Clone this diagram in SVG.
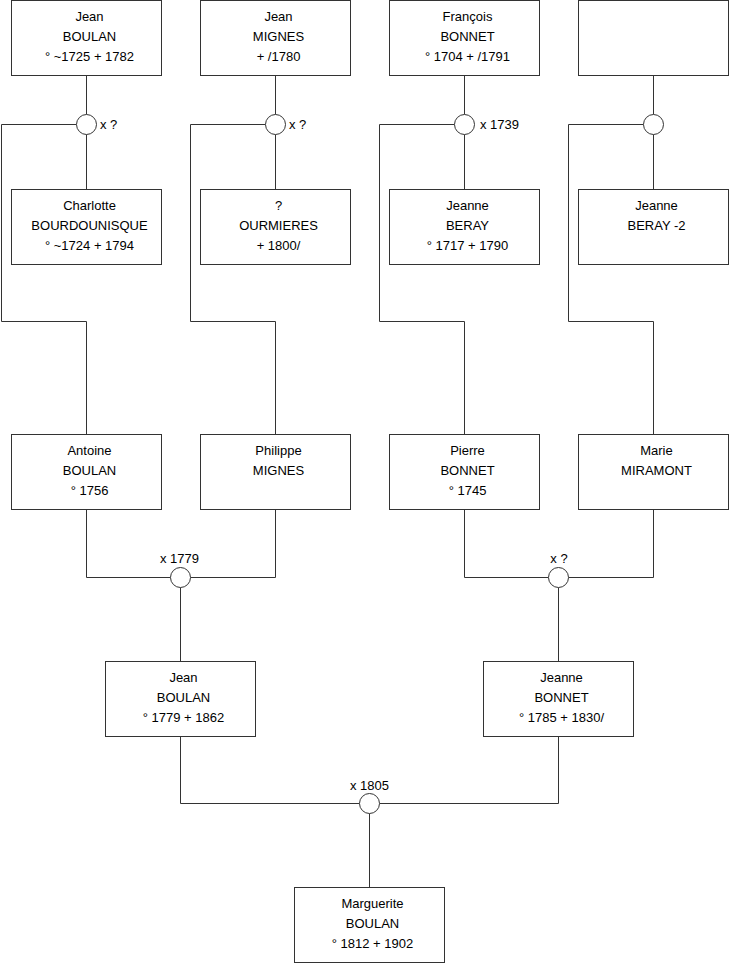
<svg xmlns="http://www.w3.org/2000/svg" width="740" height="975" viewBox="0 0 740 975">
<style>
.box{fill:#fff;stroke:#333;stroke-width:1}
.ring{fill:#fff;stroke:#333;stroke-width:1}
.ln{fill:none;stroke:#333;stroke-width:1}
text{font-family:"Liberation Sans",Arial,sans-serif;font-size:13px;fill:#000}
.c{text-anchor:middle}
</style>
<rect width="740" height="975" fill="#fff"/>
<g id="connectors">
<path class="ln" d="M86.5 75.5V114.5M86.5 134.5V189.5M76.5 124.5H1.5V321.5H86.5V434.5"/>
<path class="ln" d="M275.5 75.5V114.5M275.5 134.5V189.5M265.5 124.5H190.5V321.5H275.5V434.5"/>
<path class="ln" d="M464.5 75.5V114.5M464.5 134.5V189.5M454.5 124.5H379.5V321.5H464.5V434.5"/>
<path class="ln" d="M653.5 75.5V114.5M653.5 134.5V189.5M643.5 124.5H568.5V321.5H653.5V434.5"/>
<path class="ln" d="M86.5 509.5V577.5H170.5M190.5 577.5H275.5V509.5M180.5 587.5V661.5"/>
<path class="ln" d="M464.5 509.5V577.5H548.5M568.5 577.5H653.5V509.5M558.5 587.5V661.5"/>
<path class="ln" d="M180.5 736.5V803.5H359.5M379.5 803.5H558.5V736.5M369.5 813.5V887.5"/>
</g>
<g id="m1"><circle class="ring" cx="86.5" cy="124.5" r="10"/><text x="100" y="128.5">x ?</text></g>
<g id="m2"><circle class="ring" cx="275.5" cy="124.5" r="10"/><text x="289" y="128.5">x ?</text></g>
<g id="m3"><circle class="ring" cx="464.5" cy="124.5" r="10"/><text x="480" y="128.5">x 1739</text></g>
<g id="m4"><circle class="ring" cx="653.5" cy="124.5" r="10"/></g>
<g id="m5"><circle class="ring" cx="180.5" cy="577.5" r="10"/><text class="c" x="179.5" y="562.5">x 1779</text></g>
<g id="m6"><circle class="ring" cx="558.5" cy="577.5" r="10"/><text class="c" x="559" y="562.5">x ?</text></g>
<g id="m7"><circle class="ring" cx="369.5" cy="803.5" r="10"/><text class="c" x="369.5" y="789.5">x 1805</text></g>

<g id="p1"><rect class="box" x="11.5" y="0.5" width="150" height="75"/><text class="c" x="89.5" y="20.5">Jean</text><text class="c" x="89.5" y="40.5">BOULAN</text><text class="c" x="89.5" y="60.5">° ~1725 + 1782</text></g>
<g id="p2"><rect class="box" x="200.5" y="0.5" width="150" height="75"/><text class="c" x="278.5" y="20.5">Jean</text><text class="c" x="278.5" y="40.5">MIGNES</text><text class="c" x="278.5" y="60.5">+ /1780</text></g>
<g id="p3"><rect class="box" x="389.5" y="0.5" width="150" height="75"/><text class="c" x="467.5" y="20.5">François</text><text class="c" x="467.5" y="40.5">BONNET</text><text class="c" x="467.5" y="60.5">° 1704 + /1791</text></g>
<g id="p4"><rect class="box" x="578.5" y="0.5" width="150" height="75"/></g>

<g id="p5"><rect class="box" x="11.5" y="189.5" width="150" height="75"/><text class="c" x="89.5" y="210">Charlotte</text><text class="c" x="89.5" y="230">BOURDOUNISQUE</text><text class="c" x="89.5" y="250">° ~1724 + 1794</text></g>
<g id="p6"><rect class="box" x="200.5" y="189.5" width="150" height="75"/><text class="c" x="278.5" y="210">?</text><text class="c" x="278.5" y="230">OURMIERES</text><text class="c" x="278.5" y="250">+ 1800/</text></g>
<g id="p7"><rect class="box" x="389.5" y="189.5" width="150" height="75"/><text class="c" x="467.5" y="210">Jeanne</text><text class="c" x="467.5" y="230">BERAY</text><text class="c" x="467.5" y="250">° 1717 + 1790</text></g>
<g id="p8"><rect class="box" x="578.5" y="189.5" width="150" height="75"/><text class="c" x="656.5" y="210">Jeanne</text><text class="c" x="656.5" y="230">BERAY -2</text></g>

<g id="p9"><rect class="box" x="11.5" y="434.5" width="150" height="75"/><text class="c" x="89.5" y="455">Antoine</text><text class="c" x="89.5" y="475">BOULAN</text><text class="c" x="89.5" y="495">° 1756</text></g>
<g id="p10"><rect class="box" x="200.5" y="434.5" width="150" height="75"/><text class="c" x="278.5" y="455">Philippe</text><text class="c" x="278.5" y="475">MIGNES</text></g>
<g id="p11"><rect class="box" x="389.5" y="434.5" width="150" height="75"/><text class="c" x="467.5" y="455">Pierre</text><text class="c" x="467.5" y="475">BONNET</text><text class="c" x="467.5" y="495">° 1745</text></g>
<g id="p12"><rect class="box" x="578.5" y="434.5" width="150" height="75"/><text class="c" x="656.5" y="455">Marie</text><text class="c" x="656.5" y="475">MIRAMONT</text></g>

<g id="p13"><rect class="box" x="105.5" y="661.5" width="150" height="75"/><text class="c" x="183.5" y="682">Jean</text><text class="c" x="183.5" y="702">BOULAN</text><text class="c" x="183.5" y="722">° 1779 + 1862</text></g>
<g id="p14"><rect class="box" x="483.5" y="661.5" width="150" height="75"/><text class="c" x="561.5" y="682">Jeanne</text><text class="c" x="561.5" y="702">BONNET</text><text class="c" x="561.5" y="722">° 1785 + 1830/</text></g>

<g id="p15"><rect class="box" x="294.5" y="887.5" width="150" height="75"/><text class="c" x="372.5" y="908">Marguerite</text><text class="c" x="372.5" y="928">BOULAN</text><text class="c" x="372.5" y="948">° 1812 + 1902</text></g>
</svg>
